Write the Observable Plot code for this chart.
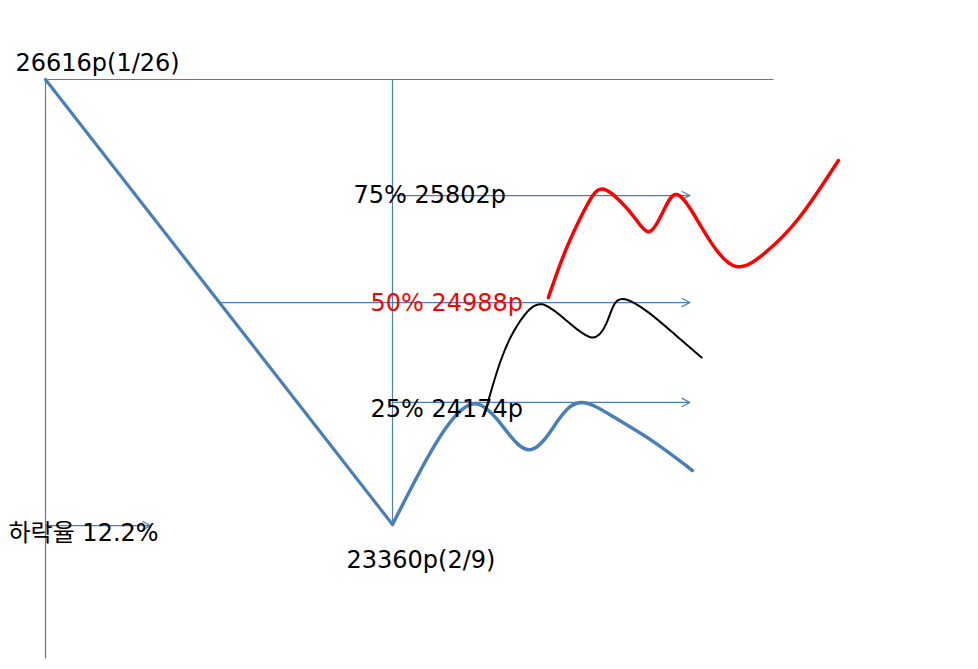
<!DOCTYPE html>
<html><head><meta charset="utf-8">
<script src="https://cdn.jsdelivr.net/npm/d3@7"></script>
<script src="https://cdn.jsdelivr.net/npm/@observablehq/plot@0.6"></script>
<style>body{margin:0;background:#fff}svg{display:block}</style>
</head><body><div id="chart"></div>
<script>
// key points (x in days since 1/26, y in index points)
const keyDays = [0, 14];
const keyValues = [26616, 23360];
const keyLabels = ["26616p(1/26)", "23360p(2/9)"];

// retracement levels: label text, drawn level, start day
const levelLabels = ["75% 25802p", "50% 24988p", "25% 24174p"];
const levelValues = [25767, 24984, 24253];
const levelStartDays = [14, 7.02, 14];
const levelEndDay = 26;

const dropLabel = "하락율 12.2%";
const dropValue = 23352;
const dropEndDay = 4.24;

const topLineEndDay = 29.37;
const axisBottomValue = 22380;

// scenario curves (B-spline control values)
const blueDays   = [14, 15.05, 15.73, 16.42, 17.35, 18.36, 19.57, 20.78, 21.58, 22.92, 24.53, 26.10];
const blueValues = [23360, 23733, 23953, 24143, 24300, 24114, 23790, 24172, 24300, 24145, 23975, 23755];

const blackDays   = [17.71, 18.36, 18.88, 19.45, 19.97, 20.90, 22.15, 22.67, 22.92, 23.28, 24.29, 25.34, 26.47];
const blackValues = [24165, 24582, 24780, 24930, 25005, 24875, 24666, 24831, 24985, 25034, 24926, 24758, 24582];

const redDays   = [20.29, 20.90, 21.58, 22.11, 22.47, 23.20, 23.88, 24.37, 24.89, 25.38, 26.02, 26.83, 27.84, 29.05, 30.34, 31.99];
const redValues = [25021, 25343, 25606, 25790, 25839, 25731, 25584, 25451, 25635, 25833, 25679, 25416, 25182, 25343, 25562, 26023];

const BLUE = "#4a7ebb";
const FONT = "'DejaVu Sans', 'Noto Sans CJK KR', sans-serif";

const zip = (xs, ys) => xs.map((x, i) => ({x, y: ys[i]}));
const levels = levelLabels.map((label, i) => ({label, value: levelValues[i], start: levelStartDays[i]}));

const txt = (data, opts) => Plot.text(data, {textAnchor: "start", lineAnchor: "bottom", fontSize: 24, fontFamily: FONT, fill: "#000", ...opts});

const chart = Plot.plot({
  width: 978, height: 669,
  margin: 0,
  x: {domain: [0, 14], range: [45, 392], axis: null},
  y: {domain: [23360, 26616], range: [524, 79], axis: null},
  style: {background: "#fff"},
  marks: [
    // frame lines
    Plot.link([0], {x1: keyDays[0], x2: topLineEndDay, y1: keyValues[0], y2: keyValues[0], stroke: BLUE, strokeWidth: 1.2}),
    Plot.link([0], {x1: keyDays[0], x2: keyDays[0], y1: keyValues[0], y2: axisBottomValue, stroke: BLUE, strokeWidth: 1.2}),
    Plot.link([0], {x1: keyDays[1], x2: keyDays[1], y1: keyValues[0], y2: keyValues[1], stroke: BLUE, strokeWidth: 1.2}),
    // level arrows
    Plot.arrow(levels, {x1: "start", x2: () => levelEndDay, y1: "value", y2: "value", stroke: BLUE, strokeWidth: 1.2, headAngle: 55, headLength: 11}),
    Plot.arrow([0], {x1: keyDays[0], x2: dropEndDay, y1: dropValue, y2: dropValue, stroke: BLUE, strokeWidth: 1.2, headAngle: 55, headLength: 11}),
    // main drop
    Plot.line(zip(keyDays, keyValues), {x: "x", y: "y", stroke: BLUE, strokeWidth: 3.2}),
    // scenarios
    Plot.line(zip(blueDays, blueValues), {x: "x", y: "y", stroke: BLUE, strokeWidth: 3.5, curve: "basis"}),
    Plot.line(zip(blackDays, blackValues), {x: "x", y: "y", stroke: "#000", strokeWidth: 2, curve: "basis"}),
    Plot.line(zip(redDays, redValues), {x: "x", y: "y", stroke: "#ff0000", strokeWidth: 3.5, curve: "basis"}),
    // labels
    txt([keyLabels[0]], {x: () => keyDays[0], y: () => keyValues[0], text: d => d, dx: -30, dy: -9}),
    txt([keyLabels[1]], {x: () => keyDays[1], y: () => keyValues[1], text: d => d, dx: -46, dy: 43}),
    txt([levels[0]], {x: () => 14, y: "value", text: "label", dx: -39, dy: 7}),
    txt([levels[1]], {x: () => 14, y: "value", text: "label", dx: -22, dy: 8, fill: "#ff0000"}),
    txt([levels[2]], {x: () => 14, y: "value", text: "label", dx: -22, dy: 15}),
    txt([dropLabel], {x: () => 0, y: () => dropValue, text: d => d, dx: -37, dy: 15, letterSpacing: "0.5px"})
  ]
});
document.getElementById("chart").appendChild(chart);
</script>
</body></html>
